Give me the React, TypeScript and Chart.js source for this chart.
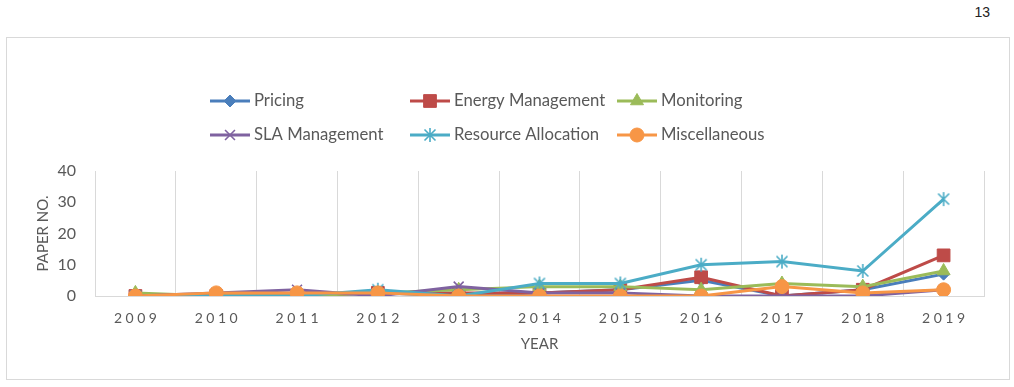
import React, { useEffect, useRef } from "react";
import { Chart, registerables } from "chart.js";
import { drawPoint } from "chart.js/helpers";

Chart.register(...registerables);

// Publication counts per research topic and year
const years = ["2009", "2010", "2011", "2012", "2013", "2014", "2015", "2016", "2017", "2018", "2019"];
const pricing = [0, 0, 0, 1, 0, 1, 2, 5, 0, 2, 7];
const energyManagement = [0, 0, 0, 1, 1, 1, 2, 6, 0, 2, 13];
const monitoring = [1, 0, 0, 1, 2, 3, 3, 2, 4, 3, 8];
const slaManagement = [0, 1, 2, 0, 3, 1, 1, 0, 0, 0, 2];
const resourceAllocation = [0, 0, 0, 2, 0, 4, 4, 10, 11, 8, 31];
const miscellaneous = [0, 1, 1, 1, 0, 0, 0, 0, 3, 1, 2];
const yTicks = [0, 10, 20, 30, 40];

const TEXT = "#595959";
const GRID = "#d9d9d9";
const FONT = "Lato";

const W = 1004;
const H = 343;

// Asterisk marker: an X with a vertical stroke through it
function makeAsterisk(color: string): HTMLCanvasElement {
  const c = document.createElement("canvas");
  c.width = 16;
  c.height = 16;
  const g = c.getContext("2d")!;
  g.strokeStyle = color;
  g.lineWidth = 1.6;
  g.beginPath();
  g.moveTo(2.5, 2.5);
  g.lineTo(13.5, 13.5);
  g.moveTo(13.5, 2.5);
  g.lineTo(2.5, 13.5);
  g.moveTo(8, 1);
  g.lineTo(8, 15);
  g.stroke();
  return c;
}

type Series = {
  label: string;
  data: number[];
  color: string;
  pointStyle: any;
  radius: number;
  pointBorderWidth: number;
};

export default function App() {
  const ref = useRef<HTMLCanvasElement | null>(null);

  useEffect(() => {
    if (!ref.current) return;
    const star = makeAsterisk("#4BACC6");

    const series: Series[] = [
      { label: "Pricing", data: pricing, color: "#4A7EBB", pointStyle: "rectRot", radius: 6, pointBorderWidth: 1 },
      { label: "Energy Management", data: energyManagement, color: "#BE4B48", pointStyle: "rect", radius: 9, pointBorderWidth: 1 },
      { label: "Monitoring", data: monitoring, color: "#9BBB59", pointStyle: "triangle", radius: 7.5, pointBorderWidth: 1 },
      { label: "SLA Management", data: slaManagement, color: "#7F62A0", pointStyle: "crossRot", radius: 7, pointBorderWidth: 1.6 },
      { label: "Resource Allocation", data: resourceAllocation, color: "#4BACC6", pointStyle: star, radius: 7, pointBorderWidth: 1 },
      { label: "Miscellaneous", data: miscellaneous, color: "#F79646", pointStyle: "circle", radius: 7, pointBorderWidth: 1 },
    ];

    const legendCols = [204, 404, 611];
    const legendRows = [64, 98];

    const customDraw = {
      id: "customDraw",
      afterDraw(chart: any) {
        const ctx = chart.ctx as CanvasRenderingContext2D;
        // legend, three columns by two rows
        series.forEach((s, i) => {
          const x0 = legendCols[i % 3];
          const y = legendRows[Math.floor(i / 3)];
          ctx.save();
          ctx.strokeStyle = s.color;
          ctx.lineWidth = 3;
          ctx.lineCap = "butt";
          ctx.beginPath();
          ctx.moveTo(x0, y);
          ctx.lineTo(x0 + 40, y);
          ctx.stroke();
          ctx.fillStyle = s.color;
          ctx.strokeStyle = s.color;
          ctx.lineWidth = s.pointBorderWidth;
          drawPoint(ctx, { pointStyle: s.pointStyle, radius: s.radius, rotation: 0, borderWidth: s.pointBorderWidth } as any, x0 + 20, y);
          ctx.fillStyle = TEXT;
          ctx.font = `16.7px ${FONT}`;
          ctx.textBaseline = "middle";
          ctx.textAlign = "left";
          ctx.fillText(s.label, x0 + 44, y);
          ctx.restore();
        });

        // year labels with wide letter spacing
        const xs = chart.scales.x;
        ctx.save();
        ctx.fillStyle = TEXT;
        ctx.font = `14px ${FONT}`;
        ctx.textBaseline = "middle";
        ctx.textAlign = "left";
        const spacing = 3.5;
        (ctx as any).letterSpacing = `${spacing}px`;
        years.forEach((yr, i) => {
          const px = xs.getPixelForValue(i);
          const w = ctx.measureText(yr).width - spacing;
          ctx.fillText(yr, px - w / 2, 281);
        });
        ctx.restore();
      },
    };

    const chart = new Chart(ref.current, {
      type: "line",
      data: {
        labels: years,
        datasets: series.map((s, i) => ({
          label: s.label,
          data: s.data,
          borderColor: s.color,
          backgroundColor: s.color,
          borderWidth: 3,
          tension: 0,
          pointStyle: s.pointStyle,
          pointRadius: s.radius,
          pointBorderWidth: s.pointBorderWidth,
          pointBorderColor: s.color,
          pointBackgroundColor: s.color,
          order: series.length - i,
        })),
      },
      options: {
        responsive: false,
        animation: false,
        layout: { padding: { top: 134, right: 26, left: 0, bottom: 0 } },
        plugins: {
          legend: { display: false },
          tooltip: { enabled: false },
        },
        scales: {
          x: {
            offset: true,
            grid: { display: true, offset: true, color: GRID, lineWidth: 1, drawTicks: false },
            border: { display: true, color: GRID, width: 1 },
            ticks: { display: false },
            title: {
              display: true,
              text: "YEAR",
              color: TEXT,
              font: { family: FONT, size: 15 },
              padding: { top: 0, bottom: 27 },
            },
            afterFit(scale: any) {
              scale.height = H - 259;
            },
          },
          y: {
            min: 0,
            max: 40,
            afterBuildTicks(scale: any) {
              scale.ticks = yTicks.map((v) => ({ value: v }));
            },
            grid: { display: false, drawTicks: false },
            border: { display: true, color: GRID, width: 1 },
            ticks: {
              color: TEXT,
              font: { family: FONT, size: 16 },
              padding: 19,
            },
            title: {
              display: true,
              text: "PAPER NO.",
              color: TEXT,
              font: { family: FONT, size: 15 },
              padding: { top: 28, bottom: 0 },
            },
            afterFit(scale: any) {
              scale.width = 89;
            },
          },
        },
      },
      plugins: [customDraw],
    });

    return () => chart.destroy();
  }, []);

  return (
    <div style={{ position: "absolute", left: 0, top: 0, width: 1014, height: 387, background: "#fff", overflow: "hidden" }}>
      <div
        style={{
          position: "absolute",
          right: 24,
          top: 4,
          fontFamily: "'Liberation Sans', Arial, sans-serif",
          fontSize: 14,
          color: "#222",
        }}
      >
        13
      </div>
      <div
        style={{
          position: "absolute",
          left: 6,
          top: 37,
          width: W,
          height: H,
          boxSizing: "border-box",
          border: `1px solid ${GRID}`,
        }}
      />
      <canvas ref={ref} width={W} height={H} style={{ position: "absolute", left: 6, top: 37, width: W, height: H }} />
    </div>
  );
}
